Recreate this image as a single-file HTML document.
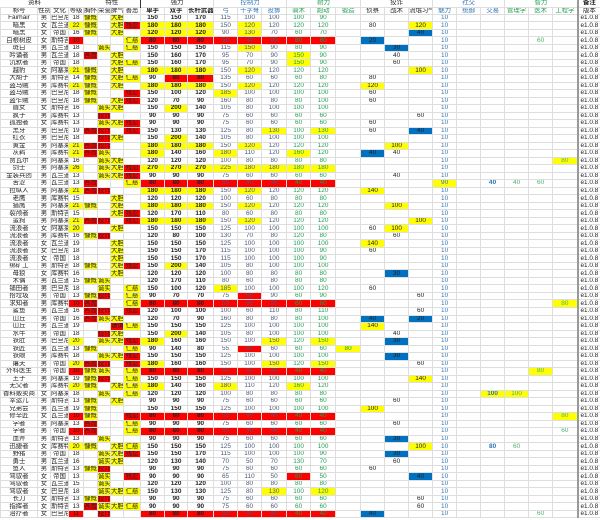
<!DOCTYPE html>
<html><head><meta charset="utf-8"><style>
html,body{margin:0;padding:0;background:#fff;width:600px;height:520px;overflow:hidden}
table{border-collapse:collapse;table-layout:fixed;width:600px;font-family:"Liberation Sans","Noto Sans CJK SC",sans-serif}
td{border:1px solid #dedede;padding:0;text-align:center;font-size:6.4px;line-height:6px;white-space:nowrap;overflow:hidden;color:#222}
tr{height:7.53px}
tr.h{height:7.2px}
.y{background:#ffff00}.r{background:#ff0000}.b{background:#0070c0}
td:nth-child(n+9):nth-child(-n+11){font-weight:bold}
td:nth-child(n+12):nth-child(-n+14){color:#4a5878}
td:nth-child(n+15):nth-child(-n+17){color:#1e9e50}
td:nth-child(21){color:#2f75b5}
td:nth-child(n+22):nth-child(-n+23){color:#2f75b5;font-weight:bold}
td:nth-child(n+24):nth-child(-n+26){color:#4cb070}
td:nth-child(9),td:nth-child(12),td:nth-child(15),td:nth-child(18),td:nth-child(21),td:nth-child(24){border-left:1px solid #333}
td:nth-child(27){border-left:2px solid #999}
tr.h td{border-left:1px solid #dedede}
.hb{color:#2f75b5!important;font-weight:normal!important}.hg{color:#1e9e50!important;font-weight:normal!important}
</style></head><body>
<table>
<colgroup><col style="width:37px"><col style="width:13px"><col style="width:18px"><col style="width:15px"><col style="width:14px"><col style="width:13px"><col style="width:13px"><col style="width:17px"><col style="width:24px"><col style="width:23px"><col style="width:26px"><col style="width:24px"><col style="width:24px"><col style="width:25px"><col style="width:24px"><col style="width:25px"><col style="width:25px"><col style="width:24px"><col style="width:24px"><col style="width:24px"><col style="width:24px"><col style="width:24px"><col style="width:24px"><col style="width:24px"><col style="width:24px"><col style="width:25px"><col style="width:23px"></colgroup>
<tr class="h"><td colspan="3" style="border:none">资料</td><td style="border:none"></td><td colspan="4" style="border:none">特性</td><td colspan="3" style="border-left:1px solid #333;border-top:none;border-bottom:none">强力</td><td colspan="3" class="hb" style="border-left:1px solid #333;border-top:none;border-bottom:none">控制力</td><td colspan="3" class="hg" style="border-left:1px solid #333;border-top:none;border-bottom:none">耐力</td><td colspan="3" style="border-left:1px solid #333;border-top:none;border-bottom:none">狡诈</td><td colspan="3" class="hb" style="border-left:1px solid #333;border-top:none;border-bottom:none">社交</td><td colspan="3" class="hg" style="border-left:1px solid #333;border-top:none;border-bottom:none">智力</td><td style="border-left:2px solid #999;border-top:none;border-bottom:none">备注</td></tr>
<tr class="h"><td>称号</td><td>性别</td><td>文化</td><td>等级</td><td>胸怀</td><td>荣誉</td><td>脾气</td><td>善恶</td><td style="border-left:1px solid #333">单手</td><td>双手</td><td>长杆武器</td><td class="hb" style="border-left:1px solid #333">弓</td><td class="hb">十字弩</td><td class="hb">投掷</td><td class="hg" style="border-left:1px solid #333">骑术</td><td class="hg">跑动</td><td class="hg">锻造</td><td style="border-left:1px solid #333">侦察</td><td>战术</td><td>流氓习气</td><td class="hb" style="border-left:1px solid #333">魅力</td><td class="hb">统御</td><td class="hb">交易</td><td class="hg" style="border-left:1px solid #333">管理学</td><td class="hg">医术</td><td class="hg">工程学</td><td style="border-left:2px solid #999">版本</td></tr>
<tr><td>Fairhair<td>男<td>巴旦尼亚<td>18<td class=y>慷慨<td><td class=y>大胆<td><td>150<td>150<td>170<td>115<td>100<td>100<td>100<td>90<td><td><td><td><td>10<td><td><td><td><td><td>e1.0.8
<tr><td>暗黑<td>女<td>瓦兰迪亚<td class=y>22<td class=y>慷慨<td><td class=y>大胆<td class=r>残忍<td class=y>180<td class=y>180<td class=y>180<td>150<td class=y>120<td>120<td>120<td>120<td><td>80<td><td class=y>120<td>10<td><td><td><td><td><td>e1.0.8
<tr><td>暗黑<td>女<td>帝国<td>16<td class=y>慷慨<td><td class=y>大胆<td><td class=y>120<td class=y>120<td class=y>120<td>90<td class=y>130<td>70<td>60<td>70<td><td><td><td class=b>40<td>10<td><td><td><td><td><td>e1.0.8
<tr><td>白根树皮<td>女<td>斯特吉亚<td class=r>10<td><td><td><td class=y>仁慈<td class=r>80<td class=r>80<td class=r>80<td class=r>80<td class=r>40<td class=r>80<td class=r>80<td class=r>80<td><td class=b>20<td><td><td>10<td><td><td><td>60<td><td>e1.0.8
<tr><td>斑白<td>男<td>瓦兰迪亚<td>18<td><td class=y>诚实<td><td class=y>仁慈<td>150<td>150<td>150<td>115<td class=y>150<td>90<td>80<td>90<td><td><td class=b>30<td><td>10<td><td><td><td><td><td>e1.0.8
<tr><td>吟诵者<td>男<td>瓦兰迪亚<td>18<td class=r>吝啬<td><td class=y>大胆<td><td>150<td>160<td>170<td>95<td>70<td>90<td class=y>150<td>90<td><td><td>40<td><td>10<td><td><td><td><td><td>e1.0.8
<tr><td>沉默者<td>男<td>帝国<td>18<td><td><td class=y>大胆<td class=y>仁慈<td>150<td>160<td>170<td>95<td>70<td>90<td class=y>150<td>90<td><td><td>60<td><td>10<td><td><td><td><td><td>e1.0.8
<tr><td>越豹<td>女<td>阿塞莱<td class=y>21<td class=y>慷慨<td><td class=y>大胆<td><td class=y>180<td class=y>180<td class=y>180<td>150<td class=y>120<td>120<td>120<td>120<td><td><td><td class=y>100<td>10<td><td><td><td><td><td>e1.0.8
<tr><td>大胡子<td>男<td>斯特吉亚<td>14<td class=y>慷慨<td><td class=y>大胆<td class=y>仁慈<td>90<td class=r>80<td class=r>80<td>135<td>60<td>60<td>60<td>80<td><td>80<td><td><td>10<td><td><td><td><td><td>e1.0.8
<tr><td>盗马贼<td>男<td>库赛特<td class=y>21<td class=y>慷慨<td><td class=y>大胆<td><td class=y>180<td class=y>180<td class=y>180<td>150<td class=y>120<td>120<td>120<td>120<td><td class=y>120<td><td><td>10<td><td><td><td><td><td>e1.0.8
<tr><td>盗马贼<td>男<td>巴旦尼亚<td>18<td class=y>慷慨<td><td><td class=r>残忍<td>150<td>100<td>120<td class=y>185<td>100<td>100<td>100<td>100<td><td>60<td><td><td>10<td><td><td><td><td><td>e1.0.8
<tr><td>盗乍贼<td>男<td>巴旦尼亚<td>18<td class=y>慷慨<td><td class=y>大胆<td class=r>残忍<td>120<td>70<td>90<td>160<td>80<td>80<td>80<td>100<td><td>60<td><td><td>10<td><td><td><td><td><td>e1.0.8
<tr><td>盾女<td>女<td>斯特吉亚<td>16<td><td class=y>诚实<td class=y>大胆<td><td>150<td class=y>200<td>140<td>105<td>80<td>100<td>100<td>100<td><td><td><td><td>10<td><td><td><td><td><td>e1.0.8
<tr><td>疯子<td>男<td>库赛特<td>13<td><td class=r>狡诈<td><td><td>90<td>90<td>90<td>75<td>60<td>60<td>60<td>60<td><td><td><td>60<td>10<td><td><td><td><td><td>e1.0.8
<tr><td>孤独者<td>女<td>库赛特<td>13<td><td class=y>诚实<td class=y>大胆<td class=r>残忍<td>90<td>90<td>90<td>75<td>60<td>60<td>60<td>60<td><td>60<td><td><td>10<td><td><td><td><td><td>e1.0.8
<tr><td>黑牙<td>男<td>巴旦尼亚<td>19<td class=r>吝啬<td class=r>狡诈<td><td class=r>残忍<td>150<td>130<td>130<td>125<td>80<td class=y>130<td>100<td class=y>130<td><td>60<td><td class=b>40<td>10<td><td><td><td><td><td>e1.0.8
<tr><td>红衣<td>男<td>巴旦尼亚<td>18<td><td class=r>狡诈<td class=y>大胆<td><td>150<td class=y>200<td>140<td>105<td>80<td>100<td>100<td>100<td><td><td><td><td>10<td><td><td><td><td><td>e1.0.8
<tr><td>黄金<td>男<td>阿塞莱<td class=y>21<td class=r>吝啬<td class=r>狡诈<td><td><td class=y>180<td class=y>180<td class=y>180<td>150<td class=y>120<td>120<td>120<td>120<td><td><td class=y>100<td><td>10<td><td><td><td><td><td>e1.0.8
<tr><td>灰鹈<td>男<td>库赛特<td class=y>21<td class=r>吝啬<td class=y>诚实<td><td><td class=y>180<td>140<td>160<td class=y>180<td>110<td>120<td class=y>160<td>120<td><td class=b>40<td>40<td><td>10<td><td><td><td><td><td>e1.0.8
<tr><td>贾瓦尔<td>男<td>阿塞莱<td>16<td><td class=y>诚实<td class=y>大胆<td><td>120<td>120<td>120<td>100<td>80<td>80<td>80<td>80<td><td><td><td><td>10<td><td><td><td><td class=y>80<td>e1.0.8
<tr><td>剑士<td>男<td>阿塞莱<td class=y>26<td><td class=y>诚实<td class=y>大胆<td class=r>残忍<td class=y>270<td class=y>270<td class=y>270<td class=y>225<td class=y>180<td class=y>180<td class=y>180<td class=y>180<td><td><td><td><td>10<td><td><td><td><td><td>e1.0.8
<tr><td>金装兵团<td>男<td>瓦兰迪亚<td>13<td><td class=y>诚实<td class=y>大胆<td class=r>残忍<td>90<td>90<td>90<td>75<td>60<td>60<td>60<td>60<td><td><td>40<td><td>10<td><td><td><td><td><td>e1.0.8
<tr><td>苦涩<td>男<td>瓦兰迪亚<td>13<td class=r>吝啬<td><td><td class=y>仁慈<td class=r>80<td class=r>80<td class=r>80<td class=r>50<td class=r>40<td class=r>40<td class=r>40<td class=r>40<td><td><td><td><td class=y>90<td><td>40<td>40<td>60<td><td>e1.0.8
<tr><td>拉纵人<td>男<td>阿塞莱<td class=y>21<td class=r>吝啬<td class=r>狡诈<td><td><td class=y>180<td class=y>180<td class=y>180<td>150<td class=y>120<td>120<td>120<td>120<td><td class=y>140<td><td><td>10<td><td><td><td><td><td>e1.0.8
<tr><td>老鹰<td>男<td>库赛特<td>15<td><td><td class=y>大胆<td><td>120<td>120<td>120<td>100<td>60<td>80<td>80<td>80<td><td><td><td><td>10<td><td><td><td><td><td>e1.0.8
<tr><td>猎鹰<td>男<td>阿塞莱<td class=y>21<td class=y>慷慨<td><td class=y>大胆<td><td class=y>180<td class=y>180<td class=y>180<td>150<td class=y>120<td>120<td>120<td>120<td><td><td class=y>100<td><td>10<td><td><td><td><td><td>e1.0.8
<tr><td>裂颅者<td>男<td>斯特吉亚<td>15<td><td><td class=y>大胆<td class=r>残忍<td>120<td>170<td>110<td>80<td>60<td>80<td>80<td>80<td><td><td><td><td>10<td><td><td><td><td><td>e1.0.8
<tr><td>蛮狗<td>男<td>阿塞莱<td class=y>21<td class=r>吝啬<td class=r>狡诈<td><td class=r>残忍<td class=y>180<td class=y>180<td class=y>180<td>150<td class=y>120<td>120<td>120<td>120<td><td><td><td class=y>100<td>10<td><td><td><td><td><td>e1.0.8
<tr><td>流浪者<td>女<td>阿塞莱<td class=y>20<td><td><td class=y>大胆<td><td>150<td>150<td>150<td>125<td>100<td>100<td>100<td>100<td><td>60<td class=y>100<td><td>10<td><td><td><td><td><td>e1.0.8
<tr><td>流浪者<td>男<td>库赛特<td>16<td class=y>慷慨<td class=r>狡诈<td><td><td>120<td>80<td>100<td>130<td>70<td>80<td>120<td>80<td><td><td>60<td><td>10<td><td><td><td><td><td>e1.0.8
<tr><td>流浪者<td>女<td>瓦兰迪亚<td>19<td><td><td class=y>大胆<td><td>150<td>150<td>150<td>125<td>100<td>100<td>100<td>100<td><td class=y>140<td><td><td>10<td><td><td><td><td><td>e1.0.8
<tr><td>流浪者<td>女<td>巴旦尼亚<td>18<td><td><td class=y>大胆<td><td>150<td>150<td>170<td>115<td>100<td>100<td>100<td>90<td><td>60<td><td><td>10<td><td><td><td><td><td>e1.0.8
<tr><td>流浪者<td>女<td>帝国<td>18<td><td><td class=y>大胆<td><td>150<td>150<td>170<td>115<td>100<td>100<td>100<td>90<td><td><td><td><td>10<td><td><td><td><td><td>e1.0.8
<tr><td>绑矿工<td>男<td>斯特吉亚<td>18<td class=y>慷慨<td><td class=y>大胆<td class=r>残忍<td>150<td class=y>200<td>140<td>105<td>80<td>100<td>100<td>100<td><td><td><td><td>10<td><td><td><td><td><td>e1.0.8
<tr><td>母狼<td>女<td>库赛特<td>16<td><td><td class=y>大胆<td><td>120<td>120<td>120<td>100<td>80<td>80<td>80<td>80<td><td><td class=b>30<td><td>10<td><td><td><td><td><td>e1.0.8
<tr><td>木偶<td>男<td>瓦兰迪亚<td>15<td class=y>慷慨<td class=y>诚实<td><td><td>120<td>170<td>110<td>80<td>60<td>80<td>80<td>80<td><td><td><td><td>10<td><td><td><td><td><td>e1.0.8
<tr><td>铺田者<td>男<td>巴旦尼亚<td>18<td><td class=y>诚实<td><td class=y>仁慈<td>150<td>100<td>120<td class=y>185<td>100<td>100<td>100<td>120<td><td>60<td><td><td>10<td><td><td><td><td><td>e1.0.8
<tr><td>拾垃圾<td>男<td>帝国<td>13<td class=y>慷慨<td class=r>狡诈<td><td class=y>仁慈<td>90<td>70<td>70<td>75<td class=r>60<td>90<td>60<td>90<td><td><td><td>60<td>10<td><td><td><td><td><td>e1.0.8
<tr><td>求知者<td>男<td>库赛特<td class=r>10<td class=r>吝啬<td><td><td class=y>仁慈<td class=r>80<td class=r>80<td class=r>80<td class=r>50<td class=r>60<td class=r>80<td class=r>60<td class=r>60<td><td><td><td><td>10<td><td><td><td><td class=y>80<td>e1.0.8
<tr><td>鲨鱼<td>男<td>瓦兰迪亚<td>16<td class=r>吝啬<td class=r>狡诈<td><td class=r>残忍<td>120<td>100<td>100<td>100<td>60<td>110<td>80<td>110<td><td><td><td>60<td>10<td><td><td><td><td><td>e1.0.8
<tr><td>山丘<td>男<td>帝国<td>16<td class=r>吝啬<td class=y>诚实<td class=y>大胆<td><td>120<td>70<td>90<td>160<td>80<td>80<td>80<td>100<td><td class=b>40<td><td class=b>20<td>10<td><td><td><td><td><td>e1.0.8
<tr><td>山丘<td>男<td>瓦兰迪亚<td>19<td><td><td class=r>谨慎<td class=y>仁慈<td>150<td>150<td>150<td>125<td>100<td>100<td>100<td>100<td><td class=y>140<td><td><td>10<td><td><td><td><td><td>e1.0.8
<tr><td>水牛<td>男<td>帝国<td>18<td><td class=r>狡诈<td class=y>大胆<td><td>150<td class=y>200<td>140<td>105<td>80<td>100<td>100<td>100<td><td><td>40<td><td>10<td><td><td><td><td><td>e1.0.8
<tr><td>铁肚<td>男<td>巴旦尼亚<td class=y>20<td><td class=y>诚实<td class=y>大胆<td class=r>残忍<td class=y>180<td>160<td>160<td>150<td>100<td class=y>150<td>120<td class=y>150<td><td><td class=b>30<td><td>10<td><td><td><td><td><td>e1.0.8
<tr><td>铁匠<td>男<td>瓦兰迪亚<td>13<td class=y>慷慨<td><td><td class=y>仁慈<td>90<td>140<td>80<td>55<td class=r>80<td>60<td>60<td>60<td class=y>80<td><td><td><td>10<td><td><td><td><td><td>e1.0.8
<tr><td>铁眼<td>男<td>库赛特<td>18<td><td class=y>诚实<td class=y>大胆<td class=r>残忍<td>150<td>150<td>150<td>125<td>100<td>100<td>100<td>100<td><td><td class=b>30<td><td>10<td><td><td><td><td><td>e1.0.8
<tr><td>屠夫<td>男<td>帝国<td class=y>20<td class=r>吝啬<td class=r>狡诈<td><td class=r>残忍<td class=y>180<td>160<td>160<td>150<td>100<td class=y>150<td>120<td class=y>150<td><td><td><td>60<td>10<td><td><td><td><td><td>e1.0.8
<tr><td>外科医生<td>男<td>帝国<td class=r>10<td class=y>慷慨<td class=y>诚实<td><td class=y>仁慈<td class=r>80<td class=r>80<td class=r>80<td class=r>50<td class=r>40<td class=r>40<td class=r>40<td class=r>40<td><td><td><td><td>10<td><td><td><td class=y>80<td><td>e1.0.8
<tr><td>王子<td>男<td>阿塞莱<td>19<td class=y>慷慨<td class=r>狡诈<td><td class=y>仁慈<td>150<td>150<td>150<td>125<td>100<td>100<td>100<td>100<td><td><td><td class=y>140<td>10<td><td><td><td><td><td>e1.0.8
<tr><td>无父者<td>男<td>库赛特<td class=y>20<td class=y>慷慨<td><td class=y>大胆<td class=y>仁慈<td class=y>180<td>140<td>160<td class=y>180<td>110<td>120<td class=y>160<td>120<td><td><td><td><td>10<td><td><td><td><td><td>e1.0.8
<tr><td>香料贩卖商<td>女<td>阿塞莱<td>18<td><td class=y>诚实<td><td class=y>仁慈<td>120<td>120<td>120<td>100<td>80<td>80<td>80<td>80<td><td><td><td><td>10<td><td class=y>100<td class=y>100<td><td><td>e1.0.8
<tr><td>幸运儿<td>男<td>斯特吉亚<td>13<td class=y>慷慨<td><td class=y>大胆<td><td>90<td>90<td>90<td>75<td>60<td>60<td>60<td>60<td><td><td>60<td><td>10<td><td><td><td><td><td>e1.0.8
<tr><td>兄弟会<td>男<td>瓦兰迪亚<td>19<td class=y>慷慨<td><td><td><td>150<td>150<td>150<td>125<td>100<td>100<td>100<td>100<td><td class=y>100<td><td><td>10<td><td><td><td><td><td>e1.0.8
<tr><td>修辛匠<td>女<td>瓦兰迪亚<td class=r>10<td class=y>慷慨<td><td><td class=r>残忍<td class=r>80<td class=r>80<td class=r>80<td class=r>50<td class=r>40<td class=r>40<td class=r>40<td class=r>40<td><td><td><td><td>10<td><td><td><td><td class=y>80<td>e1.0.8
<tr><td>学者<td>男<td>阿塞莱<td>13<td class=r>吝啬<td><td><td class=y>仁慈<td>90<td>90<td>90<td>75<td>60<td>60<td>60<td>60<td><td><td>60<td><td>10<td><td><td><td><td><td>e1.0.8
<tr><td>学者<td>男<td>帝国<td class=r>10<td class=r>吝啬<td><td><td class=y>仁慈<td class=r>80<td class=r>80<td class=r>80<td class=r>50<td class=r>40<td class=r>40<td class=r>40<td class=r>40<td><td><td><td><td>10<td><td><td><td><td>60<td>e1.0.8
<tr><td>血斧<td>男<td>斯特吉亚<td>13<td><td class=y>诚实<td><td><td>90<td>90<td>90<td>75<td>60<td>60<td>60<td>60<td><td><td class=b>30<td><td>10<td><td><td><td><td><td>e1.0.8
<tr><td>迅捷者<td>女<td>库赛特<td class=y>20<td class=y>慷慨<td><td class=y>大胆<td class=y>仁慈<td>150<td>150<td>150<td>125<td>100<td>100<td>100<td>100<td><td><td><td class=y>100<td>10<td><td>80<td>60<td><td><td>e1.0.8
<tr><td>野猪<td>男<td>帝国<td>18<td><td class=y>诚实<td class=y>大胆<td class=r>残忍<td>150<td>150<td>170<td>115<td>100<td>100<td>100<td>90<td><td><td class=b>30<td><td>10<td><td><td><td><td><td>e1.0.8
<tr><td>勇士<td>男<td>瓦兰迪亚<td>16<td><td class=y>诚实<td class=y>大胆<td><td>120<td>130<td>140<td>70<td>50<td>70<td>130<td>70<td><td><td>60<td><td>10<td><td><td><td><td><td>e1.0.8
<tr><td>鱼人<td>男<td>斯特吉亚<td>13<td class=y>慷慨<td class=r>狡诈<td><td><td>90<td>90<td>90<td>75<td>60<td>60<td>60<td>60<td><td>60<td><td><td>10<td><td><td><td><td><td>e1.0.8
<tr><td>驾驭者<td>女<td>帝国<td>13<td><td class=y>诚实<td><td class=r>残忍<td>90<td>90<td>90<td>65<td>110<td>50<td class=r>60<td>50<td><td><td><td class=b>40<td>10<td><td><td><td><td><td>e1.0.8
<tr><td>驾驭者<td>女<td>瓦兰迪亚<td>15<td><td class=y>诚实<td><td><td>120<td>120<td>120<td>100<td>80<td>80<td>80<td>80<td><td><td><td><td>10<td><td><td><td><td><td>e1.0.8
<tr><td>驾驭者<td>女<td>巴旦尼亚<td>18<td><td class=y>诚实<td class=y>大胆<td class=y>仁慈<td>150<td>130<td>130<td>125<td>80<td class=y>130<td>100<td class=y>120<td><td><td><td><td>10<td><td><td><td><td><td>e1.0.8
<tr><td>长刀<td>女<td>斯特吉亚<td>13<td class=y>慷慨<td class=r>狡诈<td><td><td>90<td>90<td>90<td>75<td>60<td>60<td>60<td>60<td><td><td><td>60<td>10<td><td><td><td><td><td>e1.0.8
<tr><td>指挥者<td>女<td>斯特吉亚<td>13<td class=r>吝啬<td class=y>诚实<td class=y>大胆<td class=y>仁慈<td>90<td>90<td>90<td>75<td>60<td>60<td>60<td>60<td><td><td><td>60<td>10<td><td><td><td><td><td>e1.0.8
<tr><td>治疗者<td>女<td>巴旦尼亚<td class=r>11<td><td class=r>狡诈<td><td><td class=r>80<td class=r>80<td class=r>80<td class=r>50<td class=r>40<td class=r>40<td class=r>40<td class=r>40<td><td class=b>40<td><td><td>10<td><td><td><td>60<td><td>e1.0.8
</table>
</body></html>
